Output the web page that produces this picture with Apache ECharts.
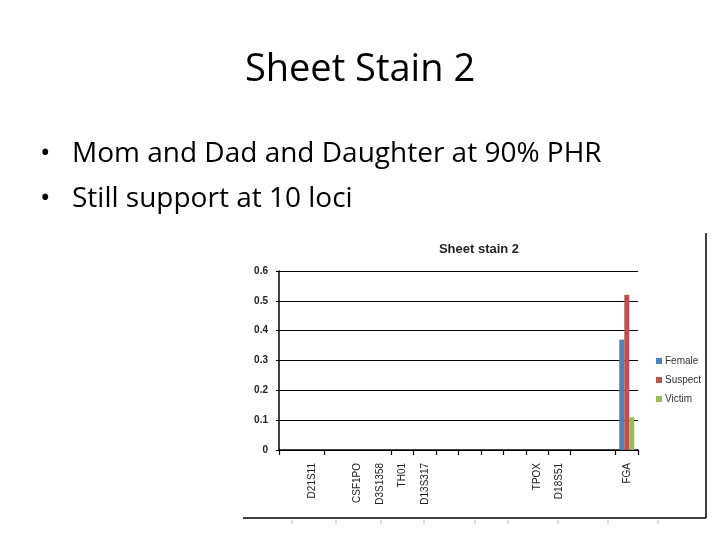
<!DOCTYPE html>
<html lang="en">
<head>
    <meta charset="UTF-8">
    <title>Sheet Stain 2</title>
    <script src="https://cdn.jsdelivr.net/npm/echarts@6/dist/echarts.min.js"></script>
    <style>
        html, body { margin: 0; padding: 0; background: #fff; }
        #main { width: 720px; height: 540px; }
    </style>
</head>
<body>
<div id="main"></div>
<script type="text/javascript">
    // loci along the x axis (blank slots had no label in the original)
    var loci = ['', 'D21S11', '', 'CSF1PO', 'D3S1358', 'TH01', 'D13S317', '', '', '', '', 'TPOX', 'D18S51', '', '', 'FGA'];
    var female  = [0, 0, 0, 0, 0, 0, 0, 0, 0, 0, 0, 0, 0, 0, 0, 0.37];
    var suspect = [0, 0, 0, 0, 0, 0, 0, 0, 0, 0, 0, 0, 0, 0, 0, 0.52];
    var victim  = [0, 0, 0, 0, 0, 0, 0, 0, 0, 0, 0, 0, 0, 0, 0, 0.11];
    var yTicks = [0, 0.1, 0.2, 0.3, 0.4, 0.5, 0.6];
    var hiddenTicks = [1, 3, 4, 14];

    var myChart = echarts.init(document.getElementById('main'));

    // frame of the pasted chart picture
    var frame = [
        { type: 'line', shape: { x1: 706, y1: 233, x2: 706, y2: 518 }, style: { stroke: '#000', lineWidth: 1.5 } },
        { type: 'line', shape: { x1: 243, y1: 518, x2: 706, y2: 518 }, style: { stroke: '#000', lineWidth: 1.5 } }
    ];
    [292, 336, 381, 424, 475, 508, 558, 608, 658].forEach(function (x) {
        frame.push({ type: 'line', shape: { x1: x, y1: 520, x2: x, y2: 524 }, style: { stroke: '#bbb', lineWidth: 1 } });
    });

    var option = {
        backgroundColor: '#fff',
        animation: false,
        title: {
            text: 'Sheet stain 2',
            left: 474,
            top: 238,
            textAlign: 'center',
            textStyle: { fontFamily: 'Liberation Sans', fontSize: 13, fontWeight: 'bold', color: '#222' }
        },
        legend: {
            orient: 'vertical',
            left: 651,
            top: 351,
            itemWidth: 6,
            itemHeight: 6,
            itemGap: 9,
            icon: 'rect',
            textStyle: { fontFamily: 'Liberation Sans', fontSize: 10, color: '#333', padding: [0, 0, 0, -2] },
            data: ['Female', 'Suspect', 'Victim']
        },
        grid: { left: 279, top: 271, right: 82, bottom: 90 },
        xAxis: {
            type: 'category',
            data: loci,
            axisLine: { show: true, lineStyle: { color: '#000', width: 1.5 } },
            axisTick: {
                show: true,
                inside: false,
                length: 5,
                lineStyle: { color: '#000', width: 1.2 },
                interval: function (index) { return hiddenTicks.indexOf(index) < 0; }
            },
            axisLabel: {
                interval: 0,
                rotate: 90,
                margin: 13,
                fontFamily: 'Liberation Sans',
                fontSize: 10,
                color: '#222'
            }
        },
        yAxis: {
            type: 'value',
            min: yTicks[0],
            max: yTicks[yTicks.length - 1],
            interval: 0.1,
            axisLine: { show: true, lineStyle: { color: '#000', width: 1.5 } },
            axisTick: { show: true, length: 3, lineStyle: { color: '#000' } },
            axisLabel: { fontFamily: 'Liberation Sans', fontSize: 10, fontWeight: 'bold', color: '#222', margin: 11 },
            splitLine: { lineStyle: { color: '#000', width: 1 } }
        },
        series: [
            { name: 'Female', type: 'bar', data: female, barGap: 0, barCategoryGap: '33%', itemStyle: { color: '#4F81BD' } },
            { name: 'Suspect', type: 'bar', data: suspect, itemStyle: { color: '#C0504D' } },
            { name: 'Victim', type: 'bar', data: victim, itemStyle: { color: '#9BBB59' } }
        ],
        graphic: [
            { type: 'text', left: 'center', top: 51, style: { text: 'Sheet Stain 2', font: '38px "Open Sans"', fill: '#000' } },
            { type: 'text', left: 40, top: 140, style: { text: '•', font: '28px "Open Sans"', fill: '#000' } },
            { type: 'text', left: 72, top: 140, style: { text: 'Mom and Dad and Daughter at 90% PHR', font: '28px "Open Sans"', fill: '#000' } },
            { type: 'text', left: 40, top: 185, style: { text: '•', font: '28px "Open Sans"', fill: '#000' } },
            { type: 'text', left: 72, top: 185, style: { text: 'Still support at 10 loci', font: '28px "Open Sans"', fill: '#000' } }
        ].concat(frame)
    };
    myChart.setOption(option);
</script>
</body>
</html>
